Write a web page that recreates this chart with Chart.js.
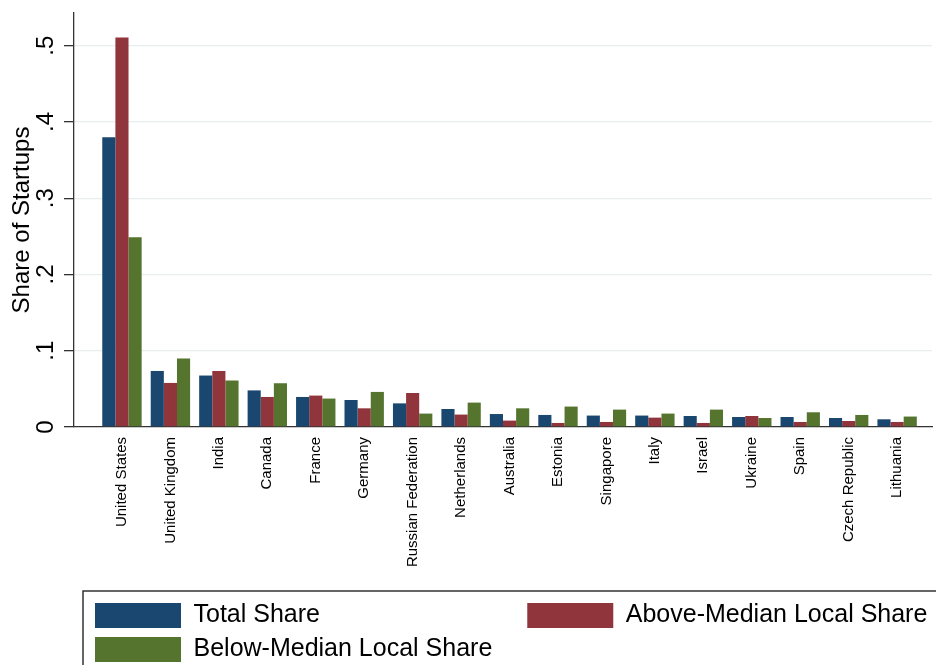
<!DOCTYPE html>
<html>
<head>
<meta charset="utf-8">
<script src="https://cdn.jsdelivr.net/npm/chart.js@4/dist/chart.umd.min.js"></script>
<style>
  html, body { margin: 0; padding: 0; background: #ffffff; }
  #wrap { width: 936px; height: 665px; position: relative; }
</style>
</head>
<body>
<div id="wrap"><canvas id="c" width="936" height="665"></canvas></div>
<script>
// ---- data ----
const categories = ["United States", "United Kingdom", "India", "Canada", "France", "Germany",
  "Russian Federation", "Netherlands", "Australia", "Estonia", "Singapore", "Italy", "Israel",
  "Ukraine", "Spain", "Czech Republic", "Lithuania"];
const totalShare  = [0.380, 0.0735, 0.0675, 0.048, 0.0394, 0.0354, 0.031, 0.0236, 0.017, 0.0158, 0.015, 0.015, 0.0144, 0.0131, 0.0131, 0.0118, 0.0101];
const aboveMedian = [0.511, 0.0578, 0.0735, 0.0394, 0.0412, 0.0245, 0.0446, 0.0163, 0.0084, 0.0053, 0.0066, 0.0123, 0.0053, 0.0144, 0.0066, 0.0079, 0.0066];
const belowMedian = [0.249, 0.0898, 0.061, 0.0574, 0.0373, 0.046, 0.0176, 0.032, 0.0245, 0.0268, 0.0228, 0.0176, 0.0228, 0.0118, 0.0193, 0.0158, 0.0137];
const seriesNames = ["Total Share", "Above-Median Local Share", "Below-Median Local Share"];
const yTickValues = [0, 0.1, 0.2, 0.3, 0.4, 0.5];
const yTickLabels = ["0", ".1", ".2", ".3", ".4", ".5"];
const yTitle = "Share of Startups";

const FONT = '"Liberation Sans", Arial, Helvetica, sans-serif';
Chart.defaults.font.family = FONT;
Chart.defaults.color = '#000';

const toPoints = arr => arr.map((v, i) => ({ x: i, y: v }));

const legendFrame = {
  id: 'legendFrame',
  afterLayout(chart) {
    const lg = chart.legend;
    const h = lg.height;
    lg.left = chart.chartArea.left + 12;
    lg.right = 1100;
    lg.top = chart.chartArea.bottom + 167;
    lg.bottom = lg.top + h;
  },
  afterDraw(chart) {
    const lg = chart.legend, ctx = chart.ctx;
    ctx.save();
    ctx.strokeStyle = '#333';
    ctx.lineWidth = 1.5;
    ctx.strokeRect(lg.left - 3, lg.top - 3, chart.width, lg.height + 30);
    ctx.restore();
  }
};

const LEGEND_FONT = 25;
const FIRST_COL_TEXT = 323; // width reserved for first legend column text

new Chart(document.getElementById('c'), {
  type: 'bar',
  data: {
    datasets: [
      { label: seriesNames[0], data: toPoints(totalShare),  backgroundColor: '#1a476f', borderWidth: 0 },
      { label: seriesNames[1], data: toPoints(aboveMedian), backgroundColor: '#90353b', borderWidth: 0 },
      { label: seriesNames[2], data: toPoints(belowMedian), backgroundColor: '#55752f', borderWidth: 0 }
    ]
  },
  plugins: [legendFrame],
  options: {
    responsive: false,
    animation: false,
    devicePixelRatio: 1,
    categoryPercentage: 0.813,
    barPercentage: 1.0,
    layout: { padding: { top: 13, left: 0, right: 4, bottom: 0 } },
    plugins: {
      tooltip: { enabled: false },
      legend: {
        display: true,
        position: 'bottom',
        align: 'start',
        fullSize: true,
        labels: {
          boxWidth: 86,
          boxHeight: 25,
          padding: 9,
          color: '#000',
          font: { size: LEGEND_FONT, family: FONT },
          generateLabels(chart) {
            const items = Chart.defaults.plugins.legend.labels.generateLabels(chart);
            const ctx = chart.ctx;
            ctx.save();
            ctx.font = LEGEND_FONT + 'px ' + FONT;
            let t = items[0].text;
            let guard = 0;
            while (ctx.measureText(t).width < FIRST_COL_TEXT && guard < 400) { t += '\u200A'; guard++; }
            ctx.restore();
            items[0].text = t;
            items.forEach(it => { it.lineWidth = 0; });
            return items;
          }
        }
      }
    },
    scales: {
      x: {
        type: 'linear',
        min: -0.99,
        max: 16.72,
        offset: false,
        afterBuildTicks(scale) { scale.ticks = categories.map((_, i) => ({ value: i })); },
        afterFit(scale) { scale.height = 160; scale.paddingLeft = 0; scale.paddingRight = 0; },
        grid: { display: false, drawTicks: false },
        border: { display: true, color: '#333', width: 1.3 },
        ticks: {
          autoSkip: false,
          minRotation: 90,
          maxRotation: 90,
          padding: 10,
          color: '#000',
          font: { size: 15, family: FONT },
          callback: (v) => categories[v] !== undefined ? categories[v] : ''
        }
      },
      y: {
        type: 'linear',
        min: 0,
        max: 0.543,
        afterBuildTicks(scale) { scale.ticks = yTickValues.map(v => ({ value: v })); },
        afterFit(scale) { scale.width = 74; scale.paddingTop = 0; scale.paddingBottom = 0; },
        grid: {
          color: (c) => (c.tick && c.tick.value === 0) ? 'rgba(0,0,0,0)' : '#e6eef0',
          lineWidth: 1.3,
          tickColor: '#333',
          tickLength: 10,
          tickWidth: 1.3,
          drawTicks: true
        },
        border: { display: true, color: '#333', width: 1.3 },
        title: {
          display: true,
          text: yTitle,
          color: '#000',
          font: { size: 24, family: FONT },
          padding: { top: 8, bottom: 0 }
        },
        ticks: {
          minRotation: 90,
          maxRotation: 90,
          crossAlign: 'center',
          padding: 8,
          color: '#000',
          font: { size: 24, family: FONT },
          callback: (v) => {
            const i = yTickValues.findIndex(t => Math.abs(t - v) < 1e-9);
            return i >= 0 ? yTickLabels[i] : '';
          }
        }
      }
    }
  }
});
</script>
</body>
</html>
